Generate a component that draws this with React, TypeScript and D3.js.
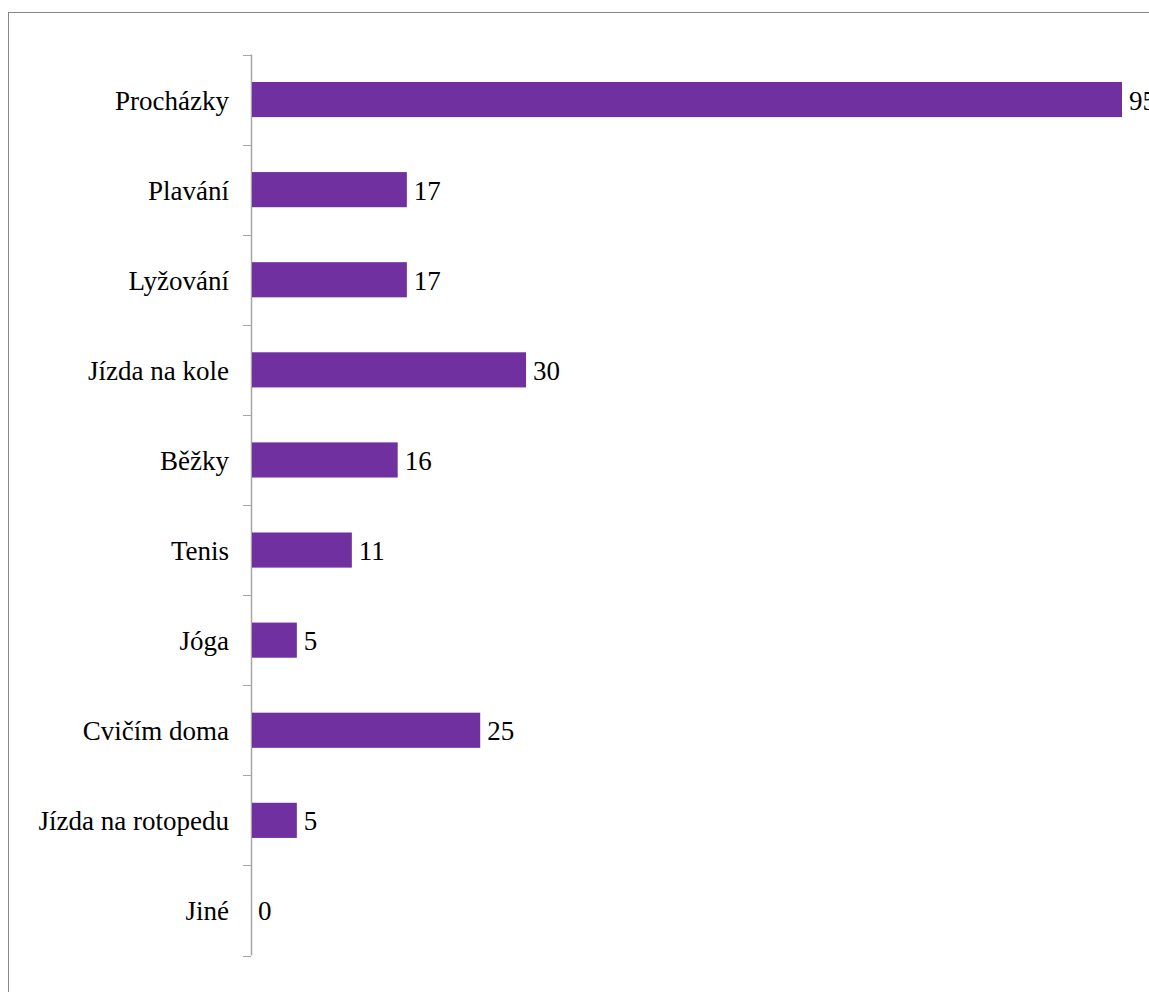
import React from "react";
import * as d3 from "d3";

const categories = ["Procházky", "Plavání", "Lyžování", "Jízda na kole", "Běžky", "Tenis", "Jóga", "Cvičím doma", "Jízda na rotopedu", "Jiné"];
const values = [95, 17, 17, 30, 16, 11, 5, 25, 5, 0];

const W = 1149;
const H = 992;
const axisX = 251;
const top = 54.5;
const bottom = 955.5;

export default function App() {
  const x = d3.scaleLinear().domain([0, 95]).range([axisX, 1122]);
  const y = d3.scaleBand<string>().domain(categories).range([top, bottom]).paddingInner(0.61).paddingOuter(0.305);
  const bounds = d3.range(categories.length + 1).map((i) => top + (i * (bottom - top)) / categories.length);
  const font = "'Liberation Serif', 'Times New Roman', serif";
  return (
    <svg width={W} height={H} style={{ position: "absolute", left: 0, top: 0 }}>
      <rect x={0} y={0} width={W} height={H} fill="#fff" />
      <rect x={8.5} y={12.5} width={1300} height={1100} fill="none" stroke="#868686" strokeWidth={1} />
      <line x1={axisX + 0.5} x2={axisX + 0.5} y1={top} y2={bottom} stroke="#a6a6a6" strokeWidth={1.5} />
      {bounds.map((b, i) => (
        <line key={i} x1={243} x2={axisX} y1={Math.round(b) + 0.5} y2={Math.round(b) + 0.5} stroke="#a6a6a6" strokeWidth={1} />
      ))}
      {categories.map((c, i) => {
        const yc = (y(c) as number) + y.bandwidth() / 2;
        return (
          <g key={c}>
            <rect x={axisX + 1} y={y(c)} width={Math.max(0, x(values[i]) - axisX - 1)} height={y.bandwidth()} fill="#7030A0" />
            <text x={229} y={yc + 10} textAnchor="end" style={{ fontFamily: font }} fontSize={27} fill="#000">{c}</text>
            <text x={x(values[i]) + 7} y={yc + 10} style={{ fontFamily: font }} fontSize={27} fill="#000">{values[i]}</text>
          </g>
        );
      })}
    </svg>
  );
}
